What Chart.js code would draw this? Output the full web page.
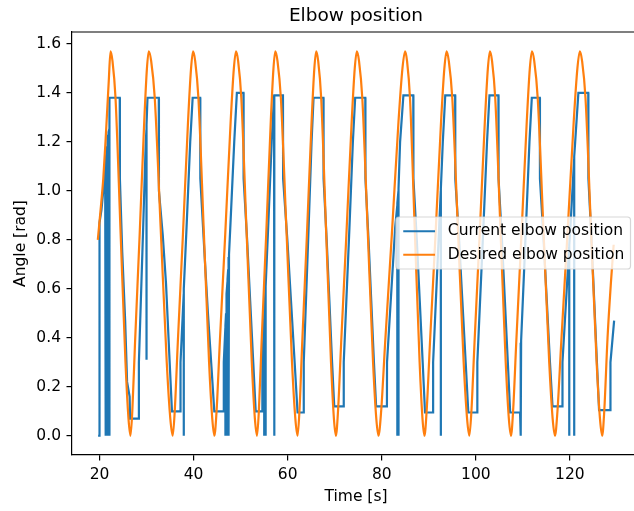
<!DOCTYPE html>
<html>
<head>
<meta charset="utf-8">
<script src="https://cdn.jsdelivr.net/npm/chart.js@4.4.0/dist/chart.umd.min.js"></script>
<style>
html,body{margin:0;padding:0;background:#fff;overflow:hidden;}
#wrap{width:634px;height:511px;}
</style>
</head>
<body>
<div id="wrap"><canvas id="c" width="634" height="511"></canvas></div>
<script>
const chartTitle = 'Elbow position';
const xAxisTitle = 'Time [s]';
const yAxisTitle = 'Angle [rad]';
const seriesNames = ['Current elbow position', 'Desired elbow position'];
const seriesColors = ['#1f77b4', '#ff7f0e'];
const xTickValues = [20, 40, 60, 80, 100, 120];
const yTickValues = [0.0, 0.2, 0.4, 0.6, 0.8, 1.0, 1.2, 1.4, 1.6];

// Desired elbow position [time s, angle rad]
const desiredElbow = [
  [19.64,0.80],[20.36,0.95],[20.80,1.05],[21.27,1.20],[21.97,1.45],[22.34,1.57],
  [22.76,1.53],[23.40,1.38],[24.46,0.84],[25.52,0.30],[26.16,0.07],[26.58,0.00],
  [26.97,0.10],[27.55,0.38],[28.53,0.82],[29.50,1.28],[30.08,1.50],[30.47,1.57],
  [30.98,1.53],[31.74,1.38],[33.02,0.84],[34.29,0.30],[35.05,0.07],[35.56,0.00],
  [35.99,0.10],[36.64,0.38],[37.73,0.82],[38.81,1.28],[39.46,1.50],[39.89,1.57],
  [40.34,1.53],[41.02,1.38],[42.16,0.84],[43.29,0.30],[43.97,0.07],[44.42,0.00],
  [44.88,0.10],[45.57,0.38],[46.72,0.82],[47.87,1.28],[48.56,1.50],[49.02,1.57],
  [49.47,1.53],[50.14,1.38],[51.25,0.84],[52.37,0.30],[53.03,0.07],[53.48,0.00],
  [53.87,0.10],[54.45,0.38],[55.43,0.82],[56.40,1.28],[56.98,1.50],[57.37,1.57],
  [57.84,1.53],[58.55,1.38],[59.74,0.84],[60.92,0.30],[61.63,0.07],[62.10,0.00],
  [62.50,0.10],[63.09,0.38],[64.09,0.82],[65.08,1.28],[65.67,1.50],[66.07,1.57],
  [66.49,1.53],[67.12,1.38],[68.16,0.84],[69.21,0.30],[69.83,0.07],[70.25,0.00],
  [70.70,0.10],[71.37,0.38],[72.48,0.82],[73.60,1.28],[74.26,1.50],[74.71,1.57],
  [75.17,1.53],[75.86,1.38],[77.01,0.84],[78.15,0.30],[78.84,0.07],[79.30,0.00],
  [79.87,0.10],[80.72,0.38],[82.14,0.82],[83.55,1.28],[84.40,1.50],[84.97,1.57],
  [85.38,1.53],[86.00,1.38],[87.02,0.84],[88.05,0.30],[88.66,0.07],[89.07,0.00],
  [89.54,0.10],[90.25,0.38],[91.43,0.82],[92.60,1.28],[93.31,1.50],[93.78,1.57],
  [94.26,1.53],[94.99,1.38],[96.20,0.84],[97.41,0.30],[98.14,0.07],[98.62,0.00],
  [99.06,0.10],[99.72,0.38],[100.81,0.82],[101.91,1.28],[102.56,1.50],[103.00,1.57],
  [103.45,1.53],[104.12,1.38],[105.24,0.84],[106.35,0.30],[107.02,0.07],[107.47,0.00],
  [107.92,0.10],[108.59,0.38],[109.70,0.82],[110.82,1.28],[111.48,1.50],[111.93,1.57],
  [112.42,1.53],[113.15,1.38],[114.38,0.84],[115.60,0.30],[116.33,0.07],[116.82,0.00],
  [117.35,0.10],[118.15,0.38],[119.47,0.82],[120.80,1.28],[121.59,1.50],[122.12,1.57],
  [122.59,1.53],[123.31,1.38],[124.49,0.84],[125.68,0.30],[126.39,0.07],[126.86,0.00],
  [127.30,0.10],[128.00,0.40],[128.70,0.62],[129.30,0.78]
];

// Current elbow position [time s, angle rad]
const currentElbow = [
  [19.70,0.00],[20.00,0.00],[20.00,0.87],[20.40,0.92],[20.80,1.00],[21.20,1.10],
  [21.30,1.12],[21.30,0.00],[21.33,1.13],[21.45,1.15],[21.45,0.00],[21.48,1.16],
  [21.60,1.18],[21.60,0.00],[21.63,1.19],[21.75,1.21],[21.75,0.00],[21.78,1.22],
  [21.90,1.23],[21.90,0.00],[21.93,1.24],[22.05,1.25],[22.05,0.00],[22.08,1.26],
  [22.20,1.38],[24.30,1.38],[24.33,1.05],[24.83,0.75],[25.45,0.47],[25.86,0.22],[26.40,0.16],[26.50,0.07],
  [28.35,0.07],[28.37,0.30],[29.28,0.85],[29.83,1.20],[29.98,1.25],[29.98,0.31],[30.01,1.27],[30.20,1.38],
  [32.60,1.38],[32.63,1.00],[33.44,0.82],[34.14,0.62],[34.84,0.33],[35.40,0.10],
  [37.20,0.10],[37.22,0.30],[37.90,0.58],[37.90,0.00],[37.93,0.60],[38.50,0.85],[39.28,1.20],[39.80,1.38],
  [41.40,1.38],[41.43,1.05],[42.30,0.75],[43.05,0.50],[43.80,0.28],[44.40,0.10],
  [46.40,0.10],[46.42,0.30],[46.75,0.44],[46.75,0.00],[46.78,0.45],[46.90,0.50],[46.90,0.00],[46.93,0.51],
  [47.05,0.57],[47.05,0.00],[47.08,0.58],[47.20,0.63],[47.20,0.00],[47.23,0.64],[47.35,0.68],[47.35,0.00],
  [47.38,0.69],[47.50,0.73],[47.50,0.00],[47.53,0.74],[47.80,0.85],[48.64,1.20],[49.20,1.40],
  [50.60,1.40],[50.63,1.05],[51.38,0.80],[52.03,0.55],[52.68,0.30],[53.20,0.10],
  [54.60,0.10],[54.62,0.30],[55.00,0.48],[55.00,0.00],[55.03,0.49],[55.30,0.60],[55.30,0.00],[55.33,0.61],
  [55.85,0.85],[56.60,1.20],[57.10,1.39],[57.15,1.39],[57.15,0.00],[57.18,1.39],
  [59.00,1.39],[59.03,1.05],[59.93,0.80],[60.71,0.55],[61.48,0.30],[62.10,0.095],
  [63.40,0.095],[63.42,0.30],[64.45,0.85],[65.08,1.20],[65.50,1.38],
  [67.60,1.38],[67.63,1.05],[68.29,0.80],[68.87,0.55],[69.44,0.30],[69.90,0.12],
  [71.90,0.12],[71.92,0.30],[73.13,0.85],[73.86,1.20],[74.35,1.38],
  [76.50,1.38],[76.53,1.05],[77.19,0.80],[77.77,0.55],[78.34,0.30],[78.80,0.12],
  [81.10,0.12],[81.12,0.30],[82.85,0.85],[83.30,0.94],[83.30,0.00],[83.33,0.95],[83.55,1.00],[83.55,0.00],
  [83.58,1.01],[83.90,1.20],[84.60,1.39],
  [86.70,1.39],[86.73,1.05],[87.45,0.80],[88.08,0.55],[88.70,0.30],[89.20,0.095],
  [90.90,0.095],[90.92,0.30],[92.20,0.85],[92.55,1.00],[92.55,0.00],[92.58,1.01],[92.98,1.20],[93.50,1.39],
  [95.60,1.39],[95.63,1.05],[96.44,0.80],[97.14,0.55],[97.84,0.30],[98.40,0.095],
  [100.30,0.095],[100.32,0.30],[101.60,0.85],[102.38,1.20],[102.90,1.39],
  [104.80,1.39],[104.83,1.05],[105.55,0.80],[106.18,0.55],[106.80,0.30],[107.30,0.095],
  [109.40,0.095],[109.42,0.30],[109.60,0.38],[109.60,0.00],[109.63,0.39],[110.65,0.85],[111.40,1.20],[111.90,1.38],
  [113.60,1.38],[113.63,1.05],[114.41,0.80],[115.09,0.55],[115.76,0.30],[116.30,0.12],
  [118.40,0.12],[118.42,0.30],[119.85,0.77],[119.85,0.00],[119.88,0.78],[120.10,0.85],
  [120.90,1.13],[120.90,0.00],[120.93,1.14],[121.12,1.20],[121.80,1.40],
  [123.90,1.40],[123.93,1.05],[124.59,0.80],[125.17,0.55],[125.74,0.30],[126.20,0.105],
  [128.60,0.105],[128.62,0.30],[129.40,0.47]
];

const FONT = 'DejaVu Sans';
const TICK_FS = 15.5;
const PLOT_RIGHT = 640; // axes extend slightly past the picture's right edge

const extendArea = {
  id: 'extendArea',
  afterLayout(chart) {
    const a = chart.chartArea;
    a.right = PLOT_RIGHT; a.width = PLOT_RIGHT - a.left;
    const xs = chart.scales.x;
    xs.right = PLOT_RIGHT; xs.width = PLOT_RIGHT - xs.left;
    xs.configure();
    if (chart.titleBlock) {
      chart.titleBlock.right = PLOT_RIGHT;
      chart.titleBlock.width = PLOT_RIGHT - chart.titleBlock.left;
    }
  }
};

const mplFrame = {
  id: 'mplFrame',
  afterDraw(chart) {
    const ctx = chart.ctx, a = chart.chartArea;
    ctx.save();
    ctx.strokeStyle = '#000';
    ctx.lineWidth = 1.2;
    ctx.beginPath();
    ctx.moveTo(a.left, a.top); ctx.lineTo(a.right, a.top);
    ctx.stroke();
    ctx.restore();
  }
};

const mplLegend = {
  id: 'mplLegend',
  afterDraw(chart) {
    const ctx = chart.ctx, a = chart.chartArea;
    const fs = TICK_FS;
    ctx.save();
    ctx.font = fs + 'px "' + FONT + '"';
    const items = chart.data.datasets.slice().sort((p, q) => p.legendIndex - q.legendIndex)
      .map(d => ({ text: d.label, color: d.borderColor }));
    const textW = Math.max(...items.map(i => ctx.measureText(i.text).width));
    const pad = 6.3, handle = 31.8, gap = 12.8, rowH = 15.9, spacing = 7.6;
    const w = pad + 1 + handle + gap + textW + pad;
    const h = 2 * pad + items.length * rowH + (items.length - 1) * spacing;
    const right = a.right - 9.5;
    const left = right - w;
    const top = (a.top + a.bottom) / 2 - h / 2 - 0.5;
    const r = 3.1;
    ctx.beginPath();
    ctx.moveTo(left + r, top);
    ctx.lineTo(right - r, top); ctx.quadraticCurveTo(right, top, right, top + r);
    ctx.lineTo(right, top + h - r); ctx.quadraticCurveTo(right, top + h, right - r, top + h);
    ctx.lineTo(left + r, top + h); ctx.quadraticCurveTo(left, top + h, left, top + h - r);
    ctx.lineTo(left, top + r); ctx.quadraticCurveTo(left, top, left + r, top);
    ctx.closePath();
    ctx.fillStyle = 'rgba(255,255,255,0.8)';
    ctx.fill();
    ctx.strokeStyle = 'rgba(204,204,204,0.8)';
    ctx.lineWidth = 1.2;
    ctx.stroke();
    items.forEach((it, i) => {
      const cy = top + pad + rowH / 2 + i * (rowH + spacing);
      ctx.strokeStyle = it.color;
      ctx.lineWidth = 2.2;
      ctx.beginPath();
      ctx.moveTo(left + pad + 1, cy);
      ctx.lineTo(left + pad + 1 + handle, cy);
      ctx.stroke();
      ctx.fillStyle = '#000';
      ctx.textBaseline = 'middle';
      ctx.textAlign = 'left';
      ctx.fillText(it.text, left + pad + 1 + handle + gap, cy);
    });
    ctx.restore();
  }
};

const toPoints = arr => arr.map(p => ({ x: p[0], y: p[1] }));

new Chart(document.getElementById('c'), {
  type: 'line',
  data: {
    datasets: [
      {
        label: seriesNames[0], data: toPoints(currentElbow), borderColor: seriesColors[0],
        backgroundColor: seriesColors[0], borderWidth: 2.2, pointRadius: 0, tension: 0,
        order: 1, legendIndex: 0, fill: false
      },
      {
        label: seriesNames[1], data: toPoints(desiredElbow), borderColor: seriesColors[1],
        backgroundColor: seriesColors[1], borderWidth: 2.2, pointRadius: 0,
        cubicInterpolationMode: 'monotone', order: 0, legendIndex: 1, fill: false
      }
    ]
  },
  options: {
    responsive: false,
    animation: false,
    layout: { padding: { left: 0, right: 0, top: 0, bottom: 0 } },
    plugins: {
      legend: { display: false },
      tooltip: { enabled: false },
      title: {
        display: true, text: chartTitle, fullSize: false, color: '#000',
        font: { family: FONT, size: 18.5, weight: 'normal' },
        padding: { top: 4.6, bottom: 5.2 }
      }
    },
    scales: {
      x: {
        type: 'linear', position: 'bottom', min: 14.15, max: 134.9,
        grid: { drawOnChartArea: false, drawTicks: true, tickLength: 5.5, color: '#000', lineWidth: 1.2 },
        border: { display: true, color: '#000', width: 1.2 },
        ticks: { color: '#000', font: { family: FONT, size: TICK_FS }, padding: 5.5, maxRotation: 0, autoSkip: false,
                 callback: v => String(v) },
        afterBuildTicks: s => { s.ticks = xTickValues.map(v => ({ value: v })); },
        afterFit: s => { s.height = 56; },
        title: { display: true, text: xAxisTitle, color: '#000', font: { family: FONT, size: TICK_FS },
                 padding: { top: 0, bottom: 4.6 } }
      },
      y: {
        type: 'linear', position: 'left', min: -0.0785, max: 1.6485,
        grid: { drawOnChartArea: false, drawTicks: true, tickLength: 5.5, color: '#000', lineWidth: 1.2 },
        border: { display: true, color: '#000', width: 1.2 },
        ticks: { color: '#000', font: { family: FONT, size: TICK_FS }, padding: 5.5, autoSkip: false,
                 callback: v => Number(v).toFixed(1) },
        afterBuildTicks: s => { s.ticks = yTickValues.map(v => ({ value: v })); },
        afterFit: s => { s.width = 72; },
        title: { display: true, text: yAxisTitle, color: '#000', font: { family: FONT, size: TICK_FS },
                 padding: { top: 11.6, bottom: 0 } }
      }
    }
  },
  plugins: [extendArea, mplFrame, mplLegend]
});
</script>
</body>
</html>
